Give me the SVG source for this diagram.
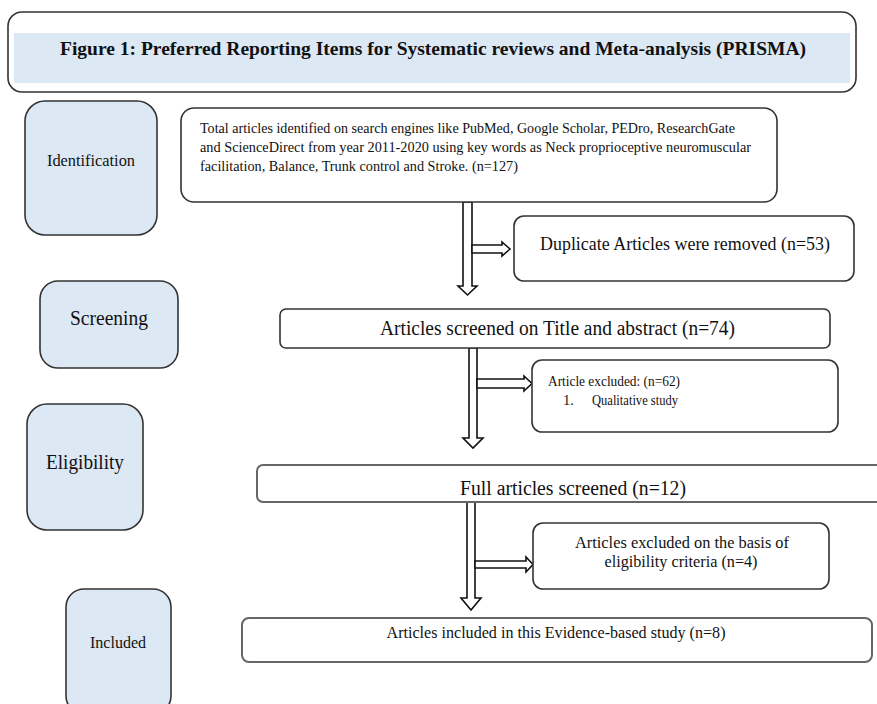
<svg xmlns="http://www.w3.org/2000/svg" width="877" height="704" viewBox="0 0 877 704">
<style>
text{font-family:"Liberation Serif","Times New Roman",Tinos,Times,serif;fill:#111}
.stage{fill:#dde8f5;stroke:#333;stroke-width:1.6}
.box{fill:#fff;stroke:#333;stroke-width:1.6}
.gbox{fill:#fff;stroke:#666;stroke-width:2}
.arr{fill:#fff;stroke:#111;stroke-width:1.6;stroke-linejoin:miter}
.c{text-anchor:middle}
</style>
<rect x="0" y="0" width="877" height="704" fill="#fff"/>
<g id="title">
<rect x="8" y="12" width="848" height="80" rx="14" class="box"/>
<rect x="14" y="33" width="836" height="50" fill="#dde8f5"/>
<text x="433" y="55" class="c" font-size="19" font-weight="bold" textLength="746" lengthAdjust="spacingAndGlyphs">Figure 1: Preferred Reporting Items for Systematic reviews and Meta-analysis (PRISMA)</text>
</g>
<g id="stage-identification">
<rect x="25" y="101" width="132" height="134" rx="20" class="stage"/>
<text x="91" y="166" class="c" font-size="16" textLength="88" lengthAdjust="spacingAndGlyphs">Identification</text>
</g>
<g id="stage-screening">
<rect x="40" y="281" width="138" height="87" rx="18" class="stage"/>
<text x="109" y="325" class="c" font-size="20.5" textLength="78" lengthAdjust="spacingAndGlyphs">Screening</text>
</g>
<g id="stage-eligibility">
<rect x="27" y="404" width="116" height="126" rx="20" class="stage"/>
<text x="85" y="469" class="c" font-size="20.5" textLength="78" lengthAdjust="spacingAndGlyphs">Eligibility</text>
</g>
<g id="stage-included">
<rect x="66" y="589" width="105" height="125" rx="18" class="stage"/>
<text x="118" y="648" class="c" font-size="16" textLength="56" lengthAdjust="spacingAndGlyphs">Included</text>
</g>
<g id="connectors">
<polygon class="arr" points="463,202 472,202 472,286 477,286 467.5,295 458,286 463,286"/>
<polygon class="arr" points="472,245 502,245 502,242 510,249 502,256 502,253 472,253"/>
<polygon class="arr" points="469,348 477,348 477,438 483,438 473,448 463,438 469,438"/>
<polygon class="arr" points="477,379 524,379 524,376 532,383.5 524,391 524,388 477,388"/>
<polygon class="arr" points="467,502 475,502 475,598 481,598 471,610 461,598 467,598"/>
<polygon class="arr" points="475,561 526,561 526,557 533,564.5 526,572 526,568 475,568"/>
</g>
<g id="identified">
<rect x="181" y="108" width="596" height="94" rx="13" class="box"/>
<text x="200" y="133" font-size="15" textLength="535" lengthAdjust="spacingAndGlyphs">Total articles identified on search engines like PubMed, Google Scholar, PEDro, ResearchGate</text>
<text x="200" y="152" font-size="15" textLength="551" lengthAdjust="spacingAndGlyphs">and ScienceDirect from year 2011-2020 using key words as Neck proprioceptive neuromuscular</text>
<text x="200" y="171" font-size="15" textLength="318" lengthAdjust="spacingAndGlyphs">facilitation, Balance, Trunk control and Stroke. (n=127)</text>
</g>
<g id="duplicates">
<rect x="514" y="216" width="340" height="65" rx="10" class="box"/>
<text x="540" y="250" font-size="18" textLength="290" lengthAdjust="spacingAndGlyphs">Duplicate Articles were removed (n=53)</text>
</g>
<g id="screened">
<rect x="280" y="309" width="550" height="39" rx="6" class="box"/>
<text x="380" y="335" font-size="20" textLength="355" lengthAdjust="spacingAndGlyphs">Articles screened on Title and abstract (n=74)</text>
</g>
<g id="excluded-title">
<rect x="532" y="360" width="306" height="72" rx="10" class="box"/>
<text x="548" y="386" font-size="14.5" textLength="132" lengthAdjust="spacingAndGlyphs">Article excluded: (n=62)</text>
<text x="563" y="405" font-size="14.5">1.</text>
<text x="592" y="405" font-size="14.5" textLength="86" lengthAdjust="spacingAndGlyphs">Qualitative study</text>
</g>
<g id="full-screened">
<rect x="257" y="465" width="630" height="37" rx="6" class="gbox"/>
<text x="460" y="495" font-size="20" textLength="226" lengthAdjust="spacingAndGlyphs">Full articles screened (n=12)</text>
</g>
<g id="excluded-eligibility">
<rect x="533" y="523" width="296" height="66" rx="10" class="box"/>
<text x="682" y="548" class="c" font-size="16.5" textLength="214" lengthAdjust="spacingAndGlyphs">Articles excluded on the basis of</text>
<text x="681" y="567" class="c" font-size="16.5" textLength="153" lengthAdjust="spacingAndGlyphs">eligibility criteria (n=4)</text>
</g>
<g id="included-studies">
<rect x="242" y="618" width="630" height="44" rx="7" class="gbox"/>
<text x="556" y="638" class="c" font-size="16.5" textLength="339" lengthAdjust="spacingAndGlyphs">Articles included in this Evidence-based study (n=8)</text>
</g>
</svg>
